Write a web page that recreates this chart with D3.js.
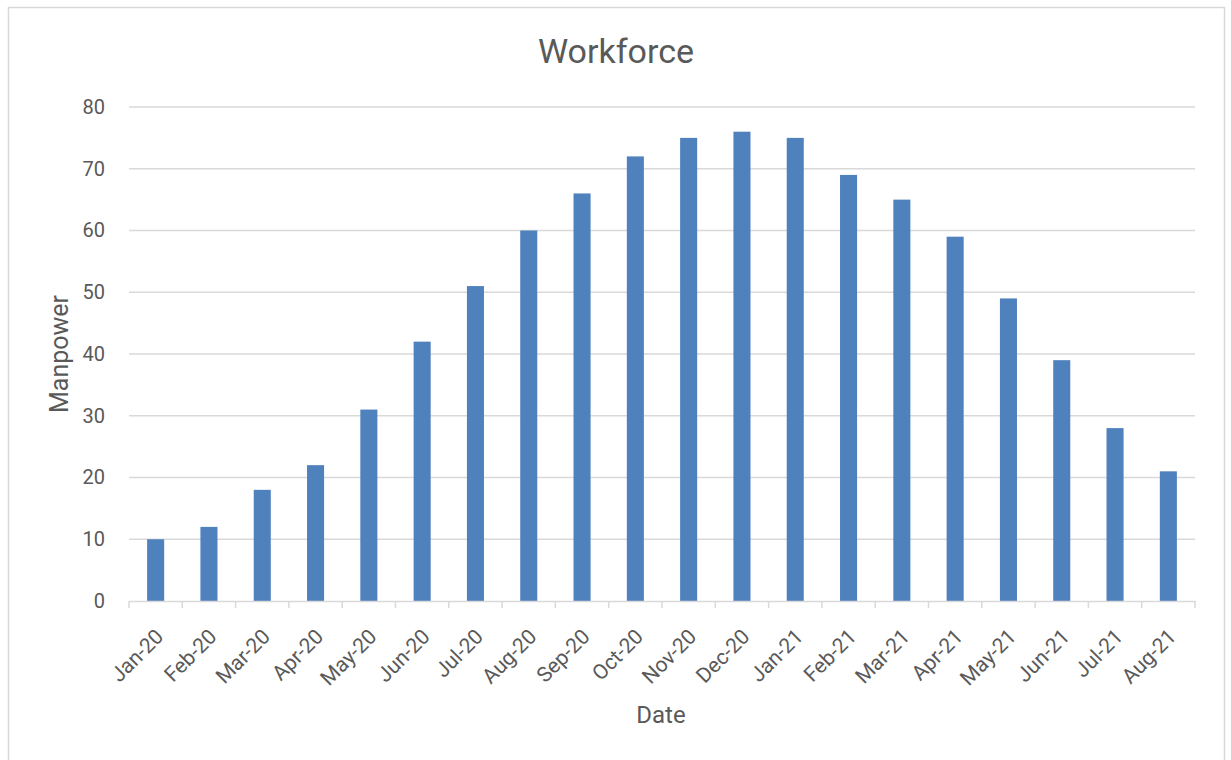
<!DOCTYPE html>
<html>
<head>
<meta charset="utf-8">
<script src="https://cdn.jsdelivr.net/npm/d3@7"></script>
<style>
  body { margin: 0; background: #fff; }
  text { font-family: Roboto, "Open Sans", sans-serif; fill: #595959; }
</style>
</head>
<body>
<script>
var months = ['Jan-20', 'Feb-20', 'Mar-20', 'Apr-20', 'May-20', 'Jun-20', 'Jul-20', 'Aug-20', 'Sep-20', 'Oct-20',
  'Nov-20', 'Dec-20', 'Jan-21', 'Feb-21', 'Mar-21', 'Apr-21', 'May-21', 'Jun-21', 'Jul-21', 'Aug-21'];
var manpower = [10, 12, 18, 22, 31, 42, 51, 60, 66, 72, 75, 76, 75, 69, 65, 59, 49, 39, 28, 21];
var yTicks = [0, 10, 20, 30, 40, 50, 60, 70, 80];

var width = 1231, height = 760,
  margin = {left: 129, right: 36, top: 107, bottom: 159},
  svg = d3.select('body').append('svg').attr('width', width).attr('height', height);

// chart frame
svg.append('rect')
  .attr('x', 8.5).attr('y', 7.5)
  .attr('width', 1216).attr('height', 760)
  .attr('fill', '#fff').attr('stroke', '#d9d9d9').attr('stroke-width', 1.5);

var x = d3.scaleBand().domain(months)
    .range([margin.left, width - margin.right])
    .paddingInner(0.68).paddingOuter(0.34),
  y = d3.scaleLinear().domain([0, 80]).range([height - margin.bottom, margin.top]);

// gridlines
svg.append('g').selectAll('line').data(yTicks.slice(1)).join('line')
  .attr('x1', margin.left).attr('x2', width - margin.right)
  .attr('y1', function(d) { return y(d); }).attr('y2', function(d) { return y(d); })
  .attr('stroke', '#d9d9d9').attr('stroke-width', 1.3);

// bars
svg.append('g').selectAll('rect').data(manpower).join('rect')
  .attr('x', function(d, i) { return x(months[i]); })
  .attr('y', function(d) { return y(d); })
  .attr('width', x.bandwidth())
  .attr('height', function(d) { return y(0) - y(d); })
  .attr('fill', '#4f81bd');

// x axis
var xAxis = svg.append('g').attr('transform', 'translate(0,' + y(0) + ')')
  .call(d3.axisBottom(x).tickSize(0).tickPadding(0));
xAxis.attr('font-family', null).attr('font-size', null);
xAxis.select('.domain').attr('stroke', '#d9d9d9').attr('stroke-width', 1.5);
var step = x.step();
xAxis.selectAll('.boundary').data(d3.range(months.length + 1)).join('line')
  .attr('x1', function(i) { return margin.left + i * step; })
  .attr('x2', function(i) { return margin.left + i * step; })
  .attr('y1', 0).attr('y2', 7)
  .attr('stroke', '#d9d9d9').attr('stroke-width', 1.5);
xAxis.selectAll('.tick text')
  .style('font-size', '21px').attr('fill', '#595959')
  .attr('text-anchor', 'end')
  .attr('y', 0).attr('dy', 0)
  .attr('transform', 'translate(9,37) rotate(-45)');

// y axis
var yAxis = svg.append('g').attr('transform', 'translate(' + margin.left + ',0)')
  .call(d3.axisLeft(y).tickValues(yTicks).tickSize(0).tickPadding(24));
yAxis.attr('font-family', null).attr('font-size', null);
yAxis.select('.domain').remove();
yAxis.selectAll('.tick text').style('font-size', '20px').attr('fill', '#595959');

// titles
svg.append('text').attr('x', 616).attr('y', 63)
  .attr('text-anchor', 'middle').style('font-size', '34px').text('Workforce');
svg.append('text').attr('x', 661).attr('y', 723)
  .attr('text-anchor', 'middle').style('font-size', '24px').text('Date');
svg.append('text').attr('transform', 'translate(68,354) rotate(-90)')
  .attr('text-anchor', 'middle').style('font-size', '25px').text('Manpower');
</script>
</body>
</html>
